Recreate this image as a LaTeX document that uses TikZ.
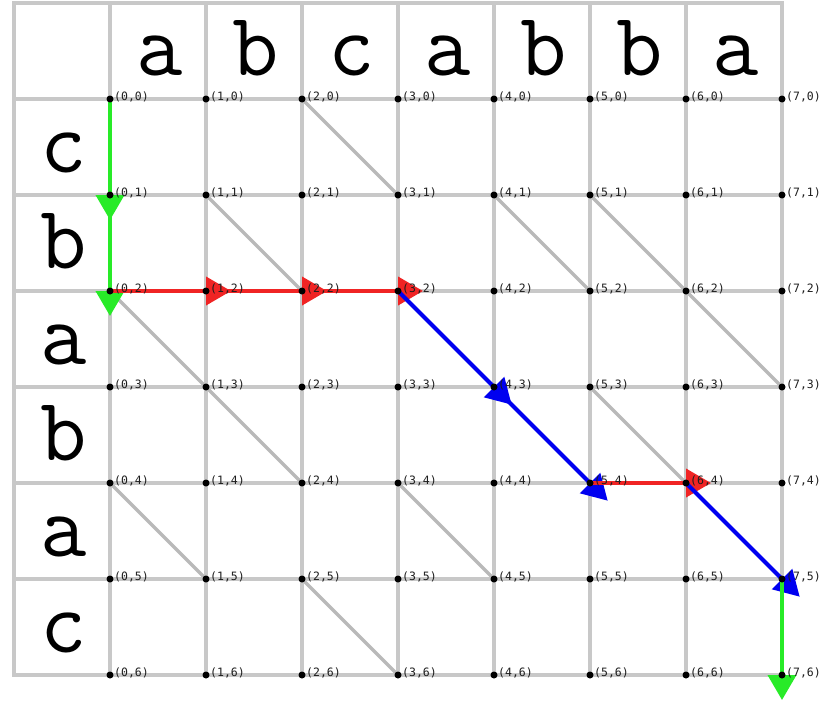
\documentclass[tikz,border=0pt]{standalone}
\usepackage{fontspec}
\newfontfamily\labfont{DejaVu Sans Mono}
\usetikzlibrary{arrows.meta}
\definecolor{gridgray}{RGB}{200,200,200}
\definecolor{diaggray}{RGB}{185,185,185}
\definecolor{pathgreen}{RGB}{40,235,40}
\definecolor{pathred}{RGB}{240,36,36}
\definecolor{pathblue}{RGB}{0,0,240}
\definecolor{labgray}{RGB}{30,30,30}
\begin{document}
\begin{tikzpicture}[x=1pt,y=-1pt,
  gridline/.style={draw=gridgray,line width=4pt,line cap=rect},
  diagline/.style={draw=diaggray,line width=3.5pt},
  patharrow/.style={line width=4pt,shorten >=-25pt,-{Triangle[length=25pt,width=28pt]}},
  greenarrow/.style={patharrow,draw=pathgreen,fill=pathgreen},
  redarrow/.style={patharrow,draw=pathred,fill=pathred},
  bluearrow/.style={patharrow,draw=pathblue,fill=pathblue},
  dot/.style={circle,fill=black,inner sep=0pt,minimum size=7pt},
  lab/.style={anchor=west,inner sep=0pt,text=labgray,font=\labfont\fontsize{11.5}{12}\selectfont},
  bigletter/.style={anchor=base,inner sep=0pt,text depth=0pt,font=\ttfamily\fontsize{90}{90}\selectfont}]
\useasboundingbox (0,0) rectangle (825,704);
\fill[white] (0,0) rectangle (825,704);
% grid
\foreach \k in {0,...,8} \draw[gridline] ({14+96*\k},3) -- ({14+96*\k},675);
\foreach \k in {0,...,7} \draw[gridline] (14,{3+96*\k}) -- (782,{3+96*\k});
% lattice points
\foreach \i in {0,...,7} \foreach \j in {0,...,6}
  \coordinate (c-\i-\j) at ({110+96*\i},{99+96*\j});
% match diagonals
\foreach \a/\b/\c/\d in {2/0/3/1, 1/1/2/2, 4/1/5/2, 5/1/6/2, 0/2/1/3, 6/2/7/3,
  1/3/2/4, 5/3/6/4, 0/4/1/5, 3/4/4/5, 2/5/3/6}
  \draw[diagline] (c-\a-\b) -- (c-\c-\d);
% path
\draw[greenarrow] (c-0-0) -- (c-0-1);
\draw[greenarrow] (c-0-1) -- (c-0-2);
\draw[redarrow] (c-0-2) -- (c-1-2);
\draw[redarrow] (c-1-2) -- (c-2-2);
\draw[redarrow] (c-2-2) -- (c-3-2);
\draw[bluearrow] (c-3-2) -- (c-4-3);
\draw[bluearrow] (c-4-3) -- (c-5-4);
\draw[redarrow] (c-5-4) -- (c-6-4);
\draw[bluearrow] (c-6-4) -- (c-7-5);
\draw[greenarrow] (c-7-5) -- (c-7-6);
% dots and labels
\foreach \i in {0,...,7} \foreach \j in {0,...,6} {
  \node[dot] (d-\i-\j) at (c-\i-\j) {};
  \node[lab,xshift=4pt,yshift=2.5pt] (l-\i-\j) at (c-\i-\j) {(\i,\j)};
}
% sequence letters
\foreach \ch [count=\k] in {a,b,c,a,b,b,a}
  \node[bigletter] (top-\k) at ({64+96*\k},75) {\ch};
\foreach \ch [count=\k] in {c,b,a,b,a,c}
  \node[bigletter] (left-\k) at (64,{76+96*\k}) {\ch};
\end{tikzpicture}
\end{document}
